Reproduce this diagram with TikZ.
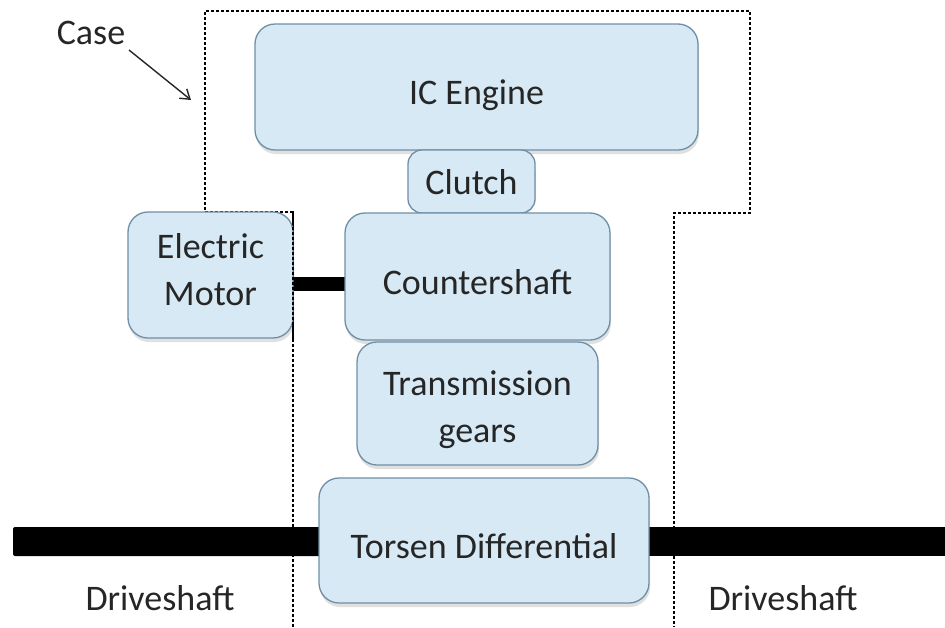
\documentclass[tikz,border=0pt]{standalone}
\usepackage{fontspec}
\setmainfont{Carlito}
\usetikzlibrary{arrows.meta}
\definecolor{boxfill}{HTML}{D7E9F4}
\definecolor{boxline}{HTML}{6F8FA6}
\definecolor{txt}{HTML}{262626}
\begin{document}
\begin{tikzpicture}[x=1pt,y=-1pt,
  blk/.style={draw=boxline, line width=1.3pt, fill=boxfill, rounded corners=20pt,
    inner sep=0pt},
  btxt/.style={text=txt, font=\fontsize{36}{47}\selectfont, align=center, inner sep=0pt},
  shaft/.style={fill=black},
  casel/.style={draw=black, dash pattern=on 3pt off 2pt, line width=1.2pt},
  lbl/.style={text=txt, font=\fontsize{36}{44}\selectfont, inner sep=0pt}]
\useasboundingbox (0,0) rectangle (945,627);
% case outline
\coordinate (c1) at (293,627);
\coordinate (c2) at (293,212);
\coordinate (c3) at (205,212);
\coordinate (c4) at (205,11);
\coordinate (c5) at (750,11);
\coordinate (c6) at (750,213);
\coordinate (c7) at (674,213);
\coordinate (c8) at (674,627);
\draw[casel] (c1) -- (c2) -- (c3) -- (c4) -- (c5) -- (c6) -- (c7) -- (c8);
% shafts
\coordinate (ls1) at (13,527);
\coordinate (ls2) at (322,556);
\coordinate (rs1) at (647,527);
\coordinate (rs2) at (945,556);
\coordinate (ms1) at (291,277);
\coordinate (ms2) at (347,291);
\fill[shaft, rounded corners=2pt] (ls1) rectangle (ls2);
\fill[shaft] (rs1) rectangle (rs2);
\fill[shaft] (ms1) rectangle (ms2);
% shadows
\foreach \cx/\cy/\w/\h in {476.5/87/443/126, 471.5/181.5/127/63, 210.5/275/165/126, 477.5/276.5/265/127, 477.5/403.5/241/123, 484/540.5/330/125}{
  \fill[black, opacity=0.12, rounded corners=20pt] (\cx-\w/2+1,\cy-\h/2+4) rectangle (\cx+\w/2+1,\cy+\h/2+4);
}
% blocks
\node[blk, minimum width=443pt, minimum height=126pt] (ice) at (476.5,87) {};
\node[blk, minimum width=127pt, minimum height=63pt, rounded corners=14pt] (clutch) at (471.5,181.5) {};
\node[blk, minimum width=165pt, minimum height=126pt] (motor) at (210.5,275) {};
\node[blk, minimum width=265pt, minimum height=127pt] (cs) at (477.5,276.5) {};
\node[blk, minimum width=241pt, minimum height=123pt] (tg) at (477.5,403.5) {};
\node[blk, minimum width=330pt, minimum height=125pt] (td) at (484,540.5) {};
% block texts
\node[btxt] (icet) at ([yshift=-8pt]ice.center) {IC Engine};
\node[btxt] (clutcht) at ([yshift=-1pt]clutch.center) {Clutch};
\node[btxt] (motort) at ([yshift=5pt]motor.center) {Electric\\Motor};
\node[btxt] (cst) at ([yshift=-6pt]cs.center) {Countershaft};
\node[btxt] (tgt) at ([yshift=-6pt]tg.center) {Transmission\\gears};
\node[btxt] (tdt) at ([yshift=-6pt]td.center) {Torsen Differential};
% re-draw case line over motor edge
\draw[casel] (293,212) -- (293,340);
% labels
\node[lbl] (case) at (91,33) {Case};
\coordinate (carr) at (191,100);
\draw[-{Straight Barb[length=9pt,width=12pt]}, line width=1.4pt, draw=txt] (129,50) -- (carr);
\node[lbl] (dl) at (160,598) {Driveshaft};
\node[lbl] (dr) at (783,598) {Driveshaft};
\end{tikzpicture}
\end{document}
